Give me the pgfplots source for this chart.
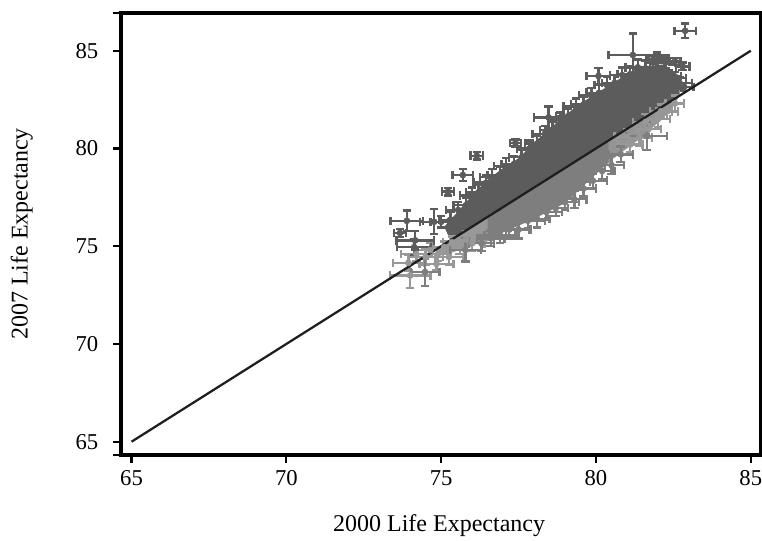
\documentclass[border=0pt]{standalone}
\usepackage{pgfplots}
\pgfplotsset{compat=1.18}
\usepackage{fontspec}
\setmainfont{Liberation Serif}
\definecolor{darkpt}{HTML}{5C5C5C}
\definecolor{midpt}{HTML}{7E7E7E}
\definecolor{lightpt}{HTML}{989898}
\pgfplotsset{
  eb/.style={only marks, mark=*, mark size=2.3pt, color=#1, mark options={fill=#1,draw=#1},
    error bars/.cd, x dir=both, y dir=both, x explicit, y explicit,
    error bar style={line width=1.8pt,color=#1},
    error mark options={line width=1.8pt,color=#1,mark size=3.2pt,rotate=90}},
}
\begin{document}
\begin{tikzpicture}[x=1pt,y=1pt]
\path[use as bounding box] (0,0) rectangle (571.5,405.75);
\begin{axis}[
  at={(90.75pt,64.5pt)}, anchor=south west,
  scale only axis, width=480pt, height=331.5pt,
  xmin=64.66, xmax=85.33, ymin=64.32, ymax=86.93,
  axis line style={line width=2.7pt,black},
  tick style={line width=1.6pt,black},
  tick align=outside, major tick length=6pt,
  xtick pos=bottom, ytick pos=left,
  xtick={65,70,75,80,85},
  ytick={64.32,65,70,75,80,85,86.93},
  yticklabels={,65,70,75,80,85,},
  /pgf/number format/assume math mode=true,
  tick label style={font=\fontsize{17}{20}\selectfont},
  yticklabel style={xshift=-7.5pt},
  xticklabel style={yshift=-2pt},
  label style={font=\fontsize{18}{20}\selectfont},
  xlabel={2000 Life Expectancy},
  ylabel={2007 Life Expectancy},
  xlabel style={at={(axis description cs:0.497,-0.16)},anchor=center},
  ylabel style={at={(axis description cs:-0.155,0.5)},anchor=center,rotate=0},
  clip=false,
]
% dense core of the clouds
\addplot[fill=midpt,draw=none] coordinates {(76.4,76.4)(80.5,80.5)(80.5,79.4)(80,78.7)(79,77.2)(78,76.4)(77,75.7)(76.4,75.2)} -- cycle;
\addplot[fill=lightpt!85!midpt,draw=none] coordinates {(80.4,80.4)(82.7,82.7)(82.4,81.9)(81.5,80.6)(81,80.0)(80.4,79.3)} -- cycle;
\addplot[fill=lightpt,draw=none] coordinates {(74.9,74.9)(76.5,76.5)(76.5,75.25)(76,75.05)(75.4,74.7)(74.9,74.5)} -- cycle;
\addplot[fill=darkpt,draw=none] coordinates {(75.3,75.3)(82.7,82.7)(82.7,83.7)(82.2,84.3)(81.5,84.2)(81,83.8)(80.5,83.3)(80,82.8)(79.5,82.3)(79,81.7)(78.5,81.0)(78,80.3)(77.5,79.5)(77,79.0)(76.5,78.4)(76,77.6)(75.5,76.7)(75.1,76.0)} -- cycle;

% light points, both ends of the lower cloud
\addplot[eb=lightpt] table[x index=0,y index=1,x error index=2,y error index=3] {
73.94 74.15 0.50 0.40
74.00 73.50 0.65 0.65
74.20 74.60 0.50 0.35
74.50 74.45 0.55 0.40
74.65 74.80 0.45 0.35
74.90 74.60 0.40 0.35
75.10 74.95 0.35 0.30
75.35 75.20 0.30 0.30
75.60 75.00 0.40 0.40
75.80 75.35 0.40 0.40
76.00 75.15 0.40 0.40
74.85 74.10 0.55 0.35
75.25 74.45 0.45 0.40
81.10 80.20 0.40 0.40
81.40 80.55 0.40 0.40
81.70 81.00 0.40 0.40
82.00 81.50 0.40 0.40
82.30 81.90 0.35 0.40
82.55 82.30 0.30 0.40
81.00 80.60 0.40 0.40
81.60 81.35 0.40 0.40
82.10 81.90 0.35 0.35
};
% mid-grey points
\addplot[eb=midpt] table[x index=0,y index=1,x error index=2,y error index=3] {
74.48 73.68 0.46 0.70
75.78 74.81 0.50 0.60
76.30 75.15 0.40 0.40
76.60 75.40 0.45 0.40
76.90 75.55 0.50 0.40
77.20 75.85 0.65 0.45
77.50 75.85 0.40 0.45
77.80 76.30 0.55 0.40
78.10 76.40 0.40 0.45
78.40 76.75 0.50 0.40
78.70 76.95 0.40 0.40
79.00 77.25 0.45 0.40
79.30 77.40 0.40 0.45
79.60 77.95 0.40 0.40
79.90 78.35 0.45 0.40
80.20 78.85 0.40 0.40
80.50 79.15 0.40 0.45
80.80 79.70 0.40 0.40
81.64 80.64 0.65 0.72
77.00 76.50 0.40 0.40
77.60 76.90 0.40 0.40
78.20 77.20 0.40 0.40
78.80 77.70 0.40 0.40
79.40 78.30 0.40 0.40
79.90 79.10 0.40 0.40
};
% dark points
\addplot[eb=darkpt] table[x index=0,y index=1,x error index=2,y error index=3] {
73.89 76.30 0.52 0.53
74.77 76.25 0.45 0.64
73.67 75.68 0.20 0.20
74.16 75.30 0.60 0.47
74.13 74.95 0.55 0.40
75.22 77.79 0.20 0.20
75.70 78.64 0.33 0.30
76.15 79.63 0.20 0.20
77.40 80.28 0.18 0.18
78.47 81.59 0.48 0.55
80.08 83.71 0.38 0.40
81.19 84.78 0.78 1.10
82.88 86.02 0.35 0.38
81.97 84.50 0.35 0.40
82.25 84.40 0.30 0.30
81.85 84.55 0.15 0.20
82.20 84.60 0.15 0.15
82.55 84.45 0.18 0.18
82.80 84.20 0.22 0.20
75.00 76.25 0.35 0.30
75.30 76.35 0.35 0.40
75.55 76.85 0.40 0.40
75.80 77.10 0.40 0.40
76.00 77.60 0.40 0.40
76.20 77.75 0.40 0.40
76.45 78.25 0.40 0.40
76.65 78.55 0.40 0.40
76.90 78.65 0.40 0.40
77.10 79.10 0.40 0.40
77.35 79.20 0.40 0.40
77.60 79.55 0.40 0.40
77.85 80.00 0.40 0.40
78.10 80.25 0.40 0.40
78.35 80.75 0.40 0.40
78.60 80.95 0.40 0.40
78.85 81.45 0.40 0.40
79.10 81.65 0.40 0.40
79.35 82.15 0.40 0.40
79.60 82.25 0.40 0.40
79.85 82.70 0.40 0.40
80.10 82.85 0.40 0.40
80.35 83.25 0.40 0.40
80.60 83.35 0.40 0.40
80.85 83.75 0.40 0.40
81.10 83.80 0.40 0.40
81.35 84.15 0.40 0.40
81.60 84.10 0.40 0.40
81.85 84.00 0.40 0.40
82.35 83.70 0.40 0.30
82.55 83.60 0.35 0.30
82.70 83.35 0.40 0.30
82.85 83.15 0.30 0.20
76.50 77.00 0.40 0.40
77.50 78.10 0.40 0.40
78.50 79.30 0.40 0.40
79.50 80.60 0.40 0.40
80.50 81.70 0.40 0.40
81.50 82.50 0.40 0.40
};
\addplot[color=black!88,line width=1.7pt] coordinates {(65,65)(85,85)};
\end{axis}
\end{tikzpicture}
\end{document}
